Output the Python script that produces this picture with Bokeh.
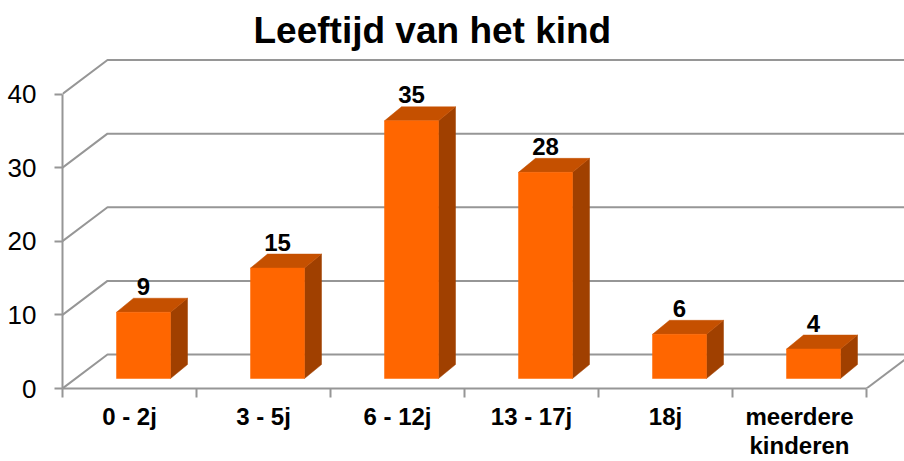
from bokeh.plotting import figure
from bokeh.models import Range1d, FixedTicker, LinearAxis, ColumnDataSource
from bokeh.embed import file_html
from bokeh.resources import INLINE

# ---- data ----
categories = ["0 - 2j", "3 - 5j", "6 - 12j", "13 - 17j", "18j", "meerdere\nkinderen"]
counts = [9, 15, 35, 28, 6, 4]
y_ticks = [0, 10, 20, 30, 40]
title_text = "Leeftijd van het kind"

# ---- style ----
FONT = "Liberation Sans"
GRID = "#969696"
FRONT = "#FF6600"
TOP = "#C55000"
SIDE = "#A04000"
FRAME_W, FRAME_H = 842, 338
PX_X = 134.0      # pixels per category
PX_Y = 7.3625     # pixels per unit of value


def dx(px):
    return px / PX_X


def dy(px):
    return px / PX_Y


n = len(categories)
x_end = FRAME_W / PX_X
y_end = FRAME_H / PX_Y

p = figure(frame_width=FRAME_W, frame_height=FRAME_H,
           x_range=Range1d(0, x_end), y_range=Range1d(0, y_end),
           output_backend="svg", toolbar_location=None,
           x_axis_type=None, y_axis_type=None,
           min_border_left=62, min_border_right=0,
           min_border_top=50, min_border_bottom=73)
p.outline_line_color = None
p.background_fill_color = "white"
p.border_fill_color = "white"

p.title.text = title_text
p.title.text_font = FONT
p.title.text_font_size = "37px"
p.title.text_font_style = "bold"
p.title.text_color = "black"
p.title.align = "left"
p.title.offset = 191
p.title.standoff = 0

# ---- 3D back wall gridlines ----
back_dx, back_dy = dx(45), dy(34)
gx, gy = [], []
for v in y_ticks:
    gx.append([0, back_dx, x_end + 1])
    gy.append([v, v + back_dy, v + back_dy])
# right edge of the floor
gx.append([n, n + back_dx])
gy.append([0, back_dy])
p.multi_line(xs=gx, ys=gy, line_color=GRID, line_width=2)

# ---- bars ----
off_x, off_y = dx(14), dy(10)      # bar front plane offset
half_w = dx(27)
ddx, ddy = dx(17), dy(14)          # bar depth
centers = [i + 0.5 + off_x for i in range(n)]
lefts = [c - half_w for c in centers]
rights = [c + half_w for c in centers]
bottoms = [off_y] * n
tops = [off_y + v for v in counts]

side_xs = [[r, r + ddx, r + ddx, r] for r in rights]
side_ys = [[b, b + ddy, t + ddy, t] for b, t in zip(bottoms, tops)]
top_xs = [[l, r, r + ddx, l + ddx] for l, r in zip(lefts, rights)]
top_ys = [[t, t, t + ddy, t + ddy] for t in tops]

p.patches(side_xs, side_ys, fill_color=SIDE, line_color=SIDE, line_width=0.5)
p.patches(top_xs, top_ys, fill_color=TOP, line_color=TOP, line_width=0.5)
p.quad(left=lefts, right=rights, bottom=bottoms, top=tops,
       fill_color=FRONT, line_color=FRONT, line_width=0.5)

lab = ColumnDataSource(dict(x=centers, y=[t + ddy for t in tops],
                            text=[str(v) for v in counts]))
p.text(x="x", y="y", text="text", source=lab, text_align="center",
       text_baseline="alphabetic", y_offset=-12,
       text_font_size="24px", text_font_style="bold", text_color="black",
       text_font={"value": FONT})

# ---- axes ----
yaxis = LinearAxis(ticker=FixedTicker(ticks=y_ticks), bounds=(min(y_ticks), max(y_ticks)))
yaxis.axis_line_color = GRID
yaxis.axis_line_width = 2
yaxis.major_tick_line_color = GRID
yaxis.major_tick_line_width = 2
yaxis.major_tick_out = 8
yaxis.major_tick_in = 0
yaxis.minor_tick_line_color = None
yaxis.major_label_text_font = FONT
yaxis.major_label_text_font_size = "26px"
yaxis.major_label_text_color = "black"
yaxis.major_label_standoff = 18
p.add_layout(yaxis, "left")

xaxis = LinearAxis(ticker=FixedTicker(ticks=[i + 0.5 for i in range(n)],
                                      minor_ticks=list(range(n + 1))),
                   bounds=(0, n))
xaxis.major_label_overrides = {i + 0.5: c for i, c in enumerate(categories)}
xaxis.axis_line_color = GRID
xaxis.axis_line_width = 2
xaxis.major_tick_line_color = None
xaxis.major_tick_out = 0
xaxis.major_tick_in = 0
xaxis.minor_tick_line_color = GRID
xaxis.minor_tick_line_width = 2
xaxis.minor_tick_out = 9
xaxis.minor_tick_in = 0
xaxis.major_label_text_font = FONT
xaxis.major_label_text_font_size = "24px"
xaxis.major_label_text_font_style = "bold"
xaxis.major_label_text_color = "black"
xaxis.major_label_text_line_height = 1.08
xaxis.major_label_standoff = 5
p.add_layout(xaxis, "below")

open("out.html", "w").write(file_html(p, INLINE))
